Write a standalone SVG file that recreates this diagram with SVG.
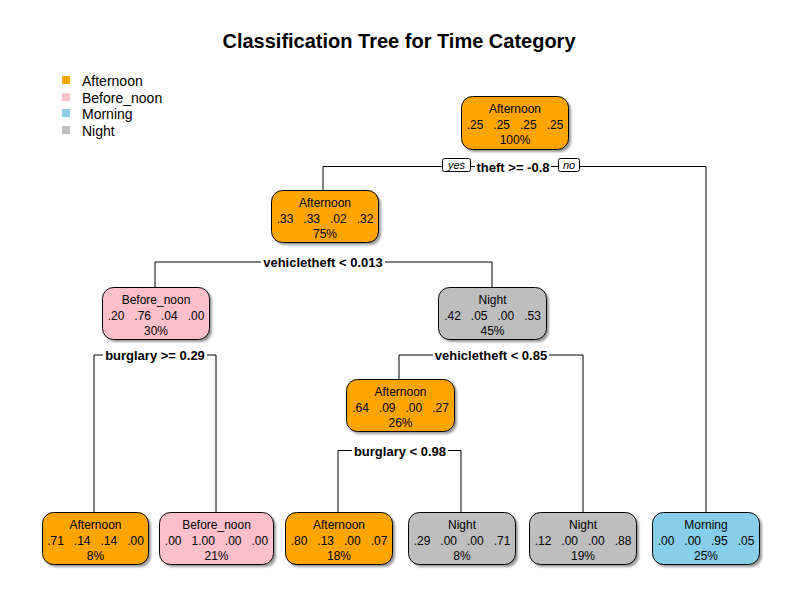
<svg xmlns="http://www.w3.org/2000/svg" width="800" height="600" viewBox="0 0 800 600">
<defs>
<filter id="sh" x="-10%" y="-10%" width="130%" height="140%"><feGaussianBlur stdDeviation="1.2"/></filter>
<style>
text{font-family:"Liberation Sans",Arial,sans-serif;fill:#000}
.t{font-size:20px;font-weight:bold;text-anchor:middle}
.lg{font-size:14px}
.nl{font-size:12px;text-anchor:middle}
.sp{font-size:13px;font-weight:bold;text-anchor:middle}
.yn{font-size:11px;font-style:italic;text-anchor:middle}
.box{stroke:#000;stroke-width:1}
.shd{fill:#9a9a9a;filter:url(#sh)}
.a{fill:#FFA500}.b{fill:#FFC0CB}.m{fill:#87CEEB}.n{fill:#BEBEBE}
.ln{stroke:#000;stroke-width:1;fill:none}
.ynb{fill:#fff;stroke:#000;stroke-width:1}
</style>
</defs>
<rect width="800" height="600" fill="#fff"/>
<text class="t" x="399" y="48">Classification Tree for Time Category</text>
<g id="legend">
<rect x="62" y="76" width="8" height="8" class="a"/><text class="lg" x="82" y="86">Afternoon</text>
<rect x="62" y="93" width="8" height="8" class="b"/><text class="lg" x="82" y="102.5">Before_noon</text>
<rect x="62" y="109" width="8" height="8" class="m"/><text class="lg" x="82" y="119">Morning</text>
<rect x="62" y="126" width="8" height="8" class="n"/><text class="lg" x="82" y="135.5">Night</text>
</g>
<g id="connectors">
<path class="ln" d="M323 166.5H442M471 166.5H475M551 166.5H558M580 166.5H706M323 166.5V190M706 166.5V512"/>
<path class="ln" d="M155 262H261M385 262H492M155 262V287M492 262V287"/>
<path class="ln" d="M94 355H103M207 355H216M94 355V512M216 355V512"/>
<path class="ln" d="M399 355H433M549 355H583M399 355V379M583 355V512"/>
<path class="ln" d="M338 450.5H352M448 450.5H461M338 450.5V512M461 450.5V512"/>
</g>
<g id="split-labels">
<rect class="ynb" x="442.5" y="158.5" width="28" height="13" rx="2"/><text class="yn" x="456.5" y="169">yes</text>
<text class="sp" x="513" y="171.5">theft &gt;= -0.8</text>
<rect class="ynb" x="558.5" y="158.5" width="21" height="13" rx="2"/><text class="yn" x="569" y="169">no</text>
<text class="sp" x="323" y="267">vehicletheft &lt; 0.013</text>
<text class="sp" x="155" y="360">burglary &gt;= 0.29</text>
<text class="sp" x="491" y="360">vehicletheft &lt; 0.85</text>
<text class="sp" x="400" y="455.5">burglary &lt; 0.98</text>
</g>
<g id="node1">
<rect class="shd" x="464" y="99" width="107" height="53" rx="11"/>
<rect class="box a" x="461.5" y="96.5" width="107" height="53" rx="11"/>
<text class="nl" x="515" y="113">Afternoon</text>
<text class="nl" x="515" y="128.5" xml:space="preserve">.25   .25   .25   .25</text>
<text class="nl" x="515" y="144">100%</text>
</g>
<g id="node2">
<rect class="shd" x="274" y="193" width="107" height="52" rx="11"/>
<rect class="box a" x="271.5" y="190.5" width="107" height="52" rx="11"/>
<text class="nl" x="325" y="207">Afternoon</text>
<text class="nl" x="325" y="222.5" xml:space="preserve">.33   .33   .02   .32</text>
<text class="nl" x="325" y="238">75%</text>
</g>
<g id="node4">
<rect class="shd" x="105" y="290" width="107" height="52" rx="11"/>
<rect class="box b" x="102.5" y="287.5" width="107" height="52" rx="11"/>
<text class="nl" x="156" y="304">Before_noon</text>
<text class="nl" x="156" y="319.5" xml:space="preserve">.20   .76   .04   .00</text>
<text class="nl" x="156" y="335">30%</text>
</g>
<g id="node5">
<rect class="shd" x="441" y="290" width="108" height="52" rx="11"/>
<rect class="box n" x="438.5" y="287.5" width="108" height="52" rx="11"/>
<text class="nl" x="492.5" y="304">Night</text>
<text class="nl" x="492.5" y="319.5" xml:space="preserve">.42   .05   .00   .53</text>
<text class="nl" x="492.5" y="335">45%</text>
</g>
<g id="node10">
<rect class="shd" x="349" y="382" width="108" height="52" rx="11"/>
<rect class="box a" x="346.5" y="379.5" width="108" height="52" rx="11"/>
<text class="nl" x="400.5" y="396">Afternoon</text>
<text class="nl" x="400.5" y="411.5" xml:space="preserve">.64   .09   .00   .27</text>
<text class="nl" x="400.5" y="427">26%</text>
</g>
<g id="leaf8">
<rect class="shd" x="45" y="515" width="106" height="52" rx="11"/>
<rect class="box a" x="42.5" y="512.5" width="106" height="52" rx="11"/>
<text class="nl" x="95.5" y="529">Afternoon</text>
<text class="nl" x="95.5" y="544.5" xml:space="preserve">.71   .14   .14   .00</text>
<text class="nl" x="95.5" y="560">8%</text>
</g>
<g id="leaf9">
<rect class="shd" x="162" y="515" width="114" height="52" rx="11"/>
<rect class="box b" x="159.5" y="512.5" width="114" height="52" rx="11"/>
<text class="nl" x="216.5" y="529">Before_noon</text>
<text class="nl" x="216.5" y="544.5" xml:space="preserve">.00   1.00   .00   .00</text>
<text class="nl" x="216.5" y="560">21%</text>
</g>
<g id="leaf20">
<rect class="shd" x="288" y="515" width="107" height="52" rx="11"/>
<rect class="box a" x="285.5" y="512.5" width="107" height="52" rx="11"/>
<text class="nl" x="339" y="529">Afternoon</text>
<text class="nl" x="339" y="544.5" xml:space="preserve">.80   .13   .00   .07</text>
<text class="nl" x="339" y="560">18%</text>
</g>
<g id="leaf21">
<rect class="shd" x="411" y="515" width="107" height="52" rx="11"/>
<rect class="box n" x="408.5" y="512.5" width="107" height="52" rx="11"/>
<text class="nl" x="462" y="529">Night</text>
<text class="nl" x="462" y="544.5" xml:space="preserve">.29   .00   .00   .71</text>
<text class="nl" x="462" y="560">8%</text>
</g>
<g id="leaf11">
<rect class="shd" x="532" y="515" width="107" height="52" rx="11"/>
<rect class="box n" x="529.5" y="512.5" width="107" height="52" rx="11"/>
<text class="nl" x="583" y="529">Night</text>
<text class="nl" x="583" y="544.5" xml:space="preserve">.12   .00   .00   .88</text>
<text class="nl" x="583" y="560">19%</text>
</g>
<g id="leaf3">
<rect class="shd" x="655" y="515" width="107" height="52" rx="11"/>
<rect class="box m" x="652.5" y="512.5" width="107" height="52" rx="11"/>
<text class="nl" x="706" y="529">Morning</text>
<text class="nl" x="706" y="544.5" xml:space="preserve">.00   .00   .95   .05</text>
<text class="nl" x="706" y="560">25%</text>
</g>
</svg>
